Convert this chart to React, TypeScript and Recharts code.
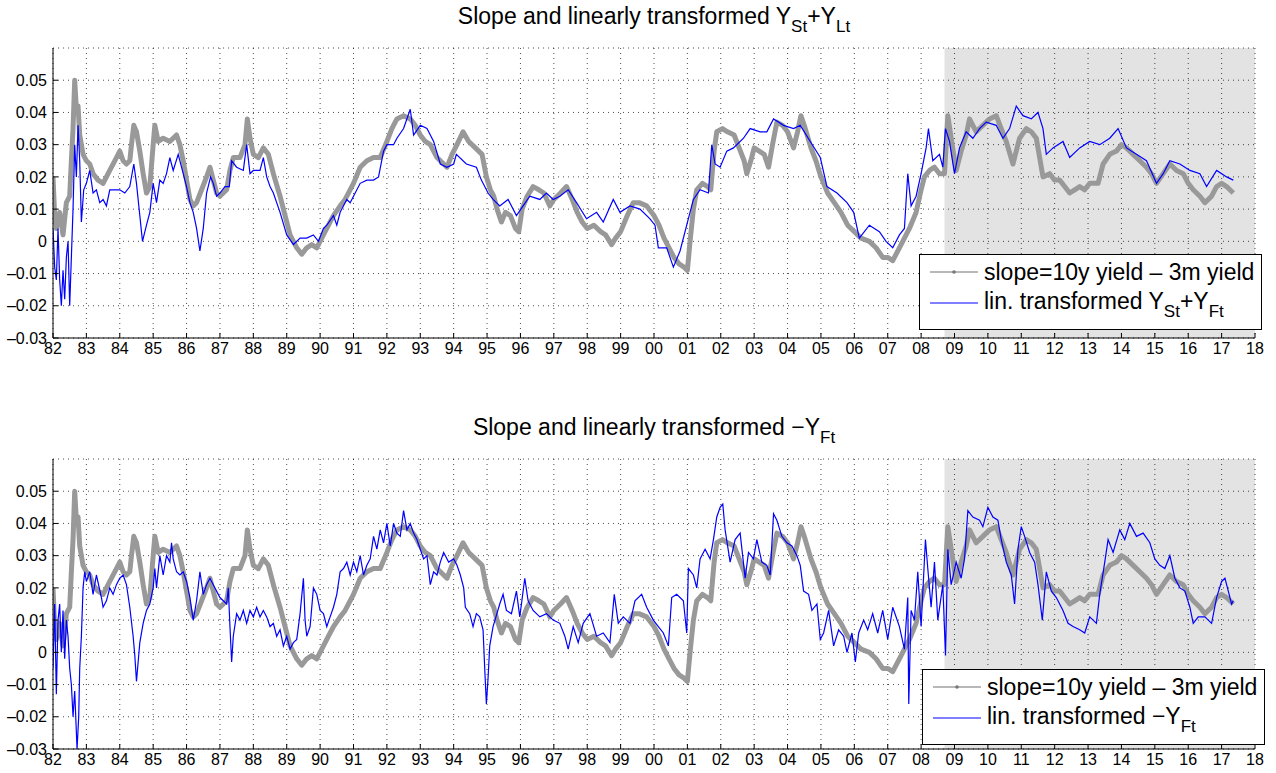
import React from 'react';
import { LineChart, Line, XAxis, YAxis, CartesianGrid, ReferenceArea } from 'recharts';

// slope = 10y yield - 3m yield (same series in both panels)
const slopeSeries: [number, number][] = [
  [1982.0, 0.020], [1982.05, 0.008], [1982.1, 0.004], [1982.2, 0.009], [1982.3, 0.002], [1982.4, 0.012],
  [1982.5, 0.014], [1982.55, 0.025], [1982.6, 0.035], [1982.65, 0.050], [1982.7, 0.041], [1982.75, 0.042],
  [1982.8, 0.033], [1982.9, 0.027], [1983.0, 0.025], [1983.1, 0.024], [1983.2, 0.021], [1983.35, 0.019],
  [1983.5, 0.018], [1983.6, 0.020], [1983.7, 0.022], [1983.85, 0.025], [1984.0, 0.028], [1984.1, 0.025],
  [1984.2, 0.024], [1984.3, 0.025], [1984.35, 0.030], [1984.42, 0.036], [1984.5, 0.034], [1984.6, 0.028],
  [1984.7, 0.021], [1984.8, 0.015], [1984.9, 0.017], [1985.0, 0.030], [1985.05, 0.036], [1985.15, 0.031],
  [1985.3, 0.032], [1985.5, 0.031], [1985.7, 0.033], [1985.8, 0.030], [1985.9, 0.025], [1986.0, 0.019],
  [1986.1, 0.013], [1986.2, 0.011], [1986.3, 0.012], [1986.45, 0.016], [1986.6, 0.020], [1986.7, 0.023],
  [1986.8, 0.019], [1986.9, 0.015], [1987.0, 0.014], [1987.2, 0.016], [1987.3, 0.022], [1987.4, 0.026],
  [1987.6, 0.026], [1987.75, 0.030], [1987.82, 0.038], [1987.9, 0.032], [1988.0, 0.027], [1988.15, 0.026],
  [1988.3, 0.029], [1988.45, 0.027], [1988.6, 0.021], [1988.8, 0.014], [1989.0, 0.006], [1989.1, 0.002],
  [1989.3, -0.002], [1989.45, -0.004], [1989.6, -0.002], [1989.75, -0.001], [1989.9, -0.002], [1990.1, 0.002],
  [1990.25, 0.005], [1990.4, 0.008], [1990.6, 0.011], [1990.75, 0.013], [1991.0, 0.018], [1991.2, 0.023],
  [1991.4, 0.025], [1991.6, 0.026], [1991.8, 0.026], [1992.0, 0.031], [1992.15, 0.035], [1992.3, 0.038],
  [1992.5, 0.039], [1992.7, 0.038], [1992.85, 0.036], [1993.0, 0.033], [1993.15, 0.031], [1993.3, 0.030],
  [1993.5, 0.026], [1993.7, 0.024], [1993.8, 0.023], [1993.95, 0.027], [1994.1, 0.030], [1994.28, 0.034],
  [1994.45, 0.031], [1994.65, 0.029], [1994.85, 0.027], [1994.98, 0.020], [1995.1, 0.016], [1995.2, 0.014],
  [1995.3, 0.010], [1995.43, 0.006], [1995.55, 0.009], [1995.7, 0.008], [1995.85, 0.004], [1995.95, 0.003],
  [1996.05, 0.010], [1996.2, 0.014], [1996.38, 0.017], [1996.55, 0.016], [1996.7, 0.015], [1996.88, 0.011],
  [1997.0, 0.013], [1997.2, 0.015], [1997.38, 0.017], [1997.55, 0.013], [1997.7, 0.009], [1997.85, 0.006],
  [1998.0, 0.004], [1998.2, 0.005], [1998.4, 0.003], [1998.55, 0.002], [1998.73, -0.001], [1998.85, 0.001],
  [1999.0, 0.003], [1999.2, 0.008], [1999.38, 0.012], [1999.55, 0.012], [1999.78, 0.011], [2000.0, 0.008],
  [2000.15, 0.005], [2000.3, 0.001], [2000.45, -0.002], [2000.6, -0.005], [2000.75, -0.007], [2000.9, -0.008],
  [2001.0, -0.009], [2001.08, 0.000], [2001.18, 0.010], [2001.28, 0.016], [2001.45, 0.018], [2001.6, 0.017],
  [2001.7, 0.016], [2001.8, 0.028], [2001.88, 0.034], [2002.05, 0.035], [2002.2, 0.034], [2002.4, 0.033],
  [2002.55, 0.029], [2002.7, 0.025], [2002.78, 0.021], [2002.9, 0.025], [2003.0, 0.029], [2003.15, 0.028],
  [2003.3, 0.027], [2003.43, 0.023], [2003.55, 0.030], [2003.68, 0.037], [2003.85, 0.036], [2004.0, 0.034],
  [2004.18, 0.029], [2004.3, 0.034], [2004.4, 0.039], [2004.5, 0.036], [2004.7, 0.029], [2004.85, 0.025],
  [2005.0, 0.020], [2005.2, 0.015], [2005.4, 0.012], [2005.6, 0.009], [2005.8, 0.005], [2006.0, 0.003],
  [2006.2, 0.001], [2006.45, 0.000], [2006.65, -0.002], [2006.85, -0.005], [2007.0, -0.005], [2007.15, -0.006],
  [2007.35, -0.002], [2007.5, 0.001], [2007.65, 0.004], [2007.85, 0.009], [2008.0, 0.016], [2008.1, 0.020],
  [2008.25, 0.022], [2008.4, 0.023], [2008.55, 0.021], [2008.7, 0.021], [2008.75, 0.030], [2008.8, 0.039],
  [2008.9, 0.032], [2009.05, 0.022], [2009.2, 0.028], [2009.35, 0.033], [2009.45, 0.038], [2009.65, 0.034],
  [2009.85, 0.036], [2010.05, 0.038], [2010.25, 0.039], [2010.4, 0.035], [2010.55, 0.031], [2010.75, 0.024],
  [2010.95, 0.032], [2011.15, 0.035], [2011.3, 0.034], [2011.45, 0.032], [2011.55, 0.026], [2011.65, 0.020],
  [2011.85, 0.021], [2012.0, 0.019], [2012.15, 0.019], [2012.3, 0.017], [2012.45, 0.015], [2012.6, 0.016],
  [2012.75, 0.017], [2012.9, 0.016], [2013.05, 0.018], [2013.3, 0.018], [2013.45, 0.024], [2013.65, 0.027],
  [2013.85, 0.028], [2014.0, 0.030], [2014.15, 0.029], [2014.35, 0.027], [2014.55, 0.025], [2014.75, 0.023],
  [2014.9, 0.021], [2015.05, 0.018], [2015.25, 0.021], [2015.45, 0.024], [2015.65, 0.022], [2015.85, 0.021],
  [2016.0, 0.018], [2016.15, 0.016], [2016.35, 0.014], [2016.5, 0.012], [2016.7, 0.014], [2016.85, 0.017],
  [2017.0, 0.018], [2017.15, 0.017], [2017.25, 0.016], [2017.35, 0.015],
];

// lin. transformed Y_St + Y_Ft (top panel)
const levelSlopeSeries: [number, number][] = [
  [1982.0, 0.004], [1982.05, -0.008], [1982.1, -0.012], [1982.15, 0.004], [1982.2, -0.012], [1982.25, -0.020],
  [1982.3, -0.009], [1982.35, -0.018], [1982.4, -0.005], [1982.45, 0.000], [1982.5, -0.020], [1982.55, -0.005],
  [1982.6, 0.010], [1982.65, 0.030], [1982.7, 0.020], [1982.75, 0.036], [1982.8, 0.025], [1982.85, 0.006],
  [1982.92, 0.016], [1983.0, 0.018], [1983.1, 0.022], [1983.2, 0.015], [1983.3, 0.016], [1983.4, 0.012],
  [1983.5, 0.013], [1983.6, 0.011], [1983.7, 0.016], [1983.85, 0.016], [1984.0, 0.016], [1984.15, 0.015],
  [1984.3, 0.017], [1984.42, 0.024], [1984.5, 0.018], [1984.6, 0.008], [1984.68, 0.000], [1984.8, 0.005],
  [1984.9, 0.009], [1985.0, 0.018], [1985.1, 0.012], [1985.2, 0.019], [1985.3, 0.018], [1985.4, 0.021],
  [1985.5, 0.026], [1985.6, 0.022], [1985.75, 0.027], [1985.9, 0.021], [1986.0, 0.017], [1986.1, 0.012],
  [1986.2, 0.009], [1986.3, 0.004], [1986.4, -0.003], [1986.5, 0.004], [1986.6, 0.015], [1986.72, 0.020],
  [1986.8, 0.018], [1986.9, 0.014], [1987.0, 0.015], [1987.15, 0.017], [1987.28, 0.017], [1987.35, 0.025],
  [1987.5, 0.023], [1987.7, 0.022], [1987.8, 0.030], [1987.9, 0.021], [1988.0, 0.022], [1988.2, 0.022],
  [1988.3, 0.026], [1988.4, 0.020], [1988.5, 0.017], [1988.6, 0.015], [1988.8, 0.009], [1989.0, 0.002],
  [1989.2, -0.001], [1989.4, 0.001], [1989.6, 0.001], [1989.8, 0.002], [1989.95, 0.000], [1990.1, 0.004],
  [1990.2, 0.005], [1990.4, 0.008], [1990.5, 0.005], [1990.6, 0.009], [1990.8, 0.013], [1990.9, 0.012],
  [1991.0, 0.014], [1991.2, 0.018], [1991.4, 0.019], [1991.6, 0.019], [1991.75, 0.020], [1991.9, 0.028],
  [1992.0, 0.030], [1992.2, 0.030], [1992.3, 0.032], [1992.5, 0.035], [1992.7, 0.041], [1992.8, 0.033],
  [1993.0, 0.036], [1993.2, 0.035], [1993.4, 0.031], [1993.6, 0.024], [1993.8, 0.023], [1994.0, 0.024],
  [1994.08, 0.027], [1994.38, 0.024], [1994.68, 0.023], [1994.83, 0.019], [1995.03, 0.015], [1995.18, 0.013],
  [1995.38, 0.011], [1995.63, 0.013], [1995.88, 0.008], [1996.08, 0.011], [1996.28, 0.014], [1996.58, 0.013],
  [1996.78, 0.015], [1996.98, 0.013], [1997.18, 0.014], [1997.43, 0.016], [1997.68, 0.012], [1997.98, 0.007],
  [1998.28, 0.009], [1998.48, 0.006], [1998.78, 0.013], [1998.98, 0.009], [1999.28, 0.011], [1999.58, 0.010],
  [1999.88, 0.007], [2000.03, 0.005], [2000.13, -0.002], [2000.38, -0.002], [2000.58, -0.008], [2000.78, -0.003],
  [2000.98, 0.005], [2001.18, 0.013], [2001.38, 0.016], [2001.63, 0.015], [2001.73, 0.030], [2001.83, 0.024],
  [2001.98, 0.023], [2002.18, 0.028], [2002.38, 0.029], [2002.68, 0.032], [2002.88, 0.035], [2003.18, 0.034],
  [2003.38, 0.034], [2003.58, 0.038], [2003.88, 0.036], [2004.18, 0.035], [2004.38, 0.036], [2004.68, 0.031],
  [2004.98, 0.026], [2005.18, 0.017], [2005.48, 0.015], [2005.78, 0.012], [2005.98, 0.009], [2006.15, 0.001],
  [2006.45, 0.005], [2006.75, 0.003], [2006.95, 0.000], [2007.15, -0.002], [2007.35, 0.002], [2007.5, 0.004],
  [2007.6, 0.021], [2007.7, 0.011], [2007.85, 0.014], [2008.0, 0.021], [2008.15, 0.029], [2008.22, 0.035],
  [2008.35, 0.025], [2008.55, 0.027], [2008.65, 0.023], [2008.73, 0.035], [2008.85, 0.031], [2009.0, 0.021],
  [2009.15, 0.029], [2009.35, 0.034], [2009.55, 0.032], [2009.75, 0.035], [2009.95, 0.037], [2010.25, 0.036],
  [2010.45, 0.032], [2010.65, 0.035], [2010.85, 0.042], [2011.05, 0.039], [2011.3, 0.038], [2011.5, 0.040],
  [2011.65, 0.035], [2011.75, 0.027], [2011.95, 0.029], [2012.25, 0.031], [2012.45, 0.026], [2012.75, 0.029],
  [2013.05, 0.031], [2013.35, 0.030], [2013.65, 0.032], [2013.9, 0.035], [2014.15, 0.029], [2014.45, 0.027],
  [2014.75, 0.025], [2015.05, 0.018], [2015.25, 0.021], [2015.45, 0.025], [2015.75, 0.024], [2016.05, 0.022],
  [2016.35, 0.021], [2016.55, 0.017], [2016.85, 0.022], [2017.15, 0.020], [2017.35, 0.019],
];

// lin. transformed -Y_Ft (bottom panel)
const negFactorSeries: [number, number][] = [
  [1982.0, -0.005], [1982.05, 0.015], [1982.1, -0.013], [1982.15, 0.010], [1982.2, 0.015], [1982.25, 0.000],
  [1982.3, 0.013], [1982.35, -0.002], [1982.4, 0.010], [1982.45, 0.005], [1982.5, -0.005], [1982.55, -0.010],
  [1982.6, -0.020], [1982.65, -0.012], [1982.72, -0.030], [1982.77, -0.020], [1982.8, -0.005], [1982.85, 0.005],
  [1982.9, 0.020], [1982.95, 0.025], [1983.0, 0.022], [1983.1, 0.025], [1983.2, 0.018], [1983.3, 0.024],
  [1983.45, 0.017], [1983.5, 0.014], [1983.6, 0.016], [1983.7, 0.020], [1983.8, 0.018], [1983.9, 0.021],
  [1984.0, 0.023], [1984.1, 0.024], [1984.2, 0.021], [1984.3, 0.014], [1984.4, 0.005], [1984.45, -0.001],
  [1984.5, -0.009], [1984.55, -0.003], [1984.6, 0.003], [1984.7, 0.009], [1984.8, 0.013], [1984.9, 0.015],
  [1985.0, 0.020], [1985.05, 0.026], [1985.1, 0.020], [1985.2, 0.030], [1985.3, 0.024], [1985.4, 0.030],
  [1985.5, 0.028], [1985.55, 0.034], [1985.6, 0.029], [1985.7, 0.025], [1985.8, 0.024], [1985.9, 0.025],
  [1986.0, 0.022], [1986.1, 0.017], [1986.2, 0.010], [1986.3, 0.016], [1986.4, 0.025], [1986.5, 0.018],
  [1986.6, 0.021], [1986.7, 0.023], [1986.8, 0.021], [1986.9, 0.019], [1987.0, 0.017], [1987.2, 0.015],
  [1987.25, 0.020], [1987.3, 0.008], [1987.35, -0.003], [1987.4, 0.005], [1987.5, 0.012], [1987.6, 0.010],
  [1987.7, 0.013], [1987.8, 0.009], [1987.9, 0.013], [1988.0, 0.011], [1988.1, 0.014], [1988.2, 0.011],
  [1988.3, 0.013], [1988.4, 0.011], [1988.5, 0.008], [1988.6, 0.009], [1988.7, 0.005], [1988.8, 0.007],
  [1988.9, 0.002], [1989.0, 0.005], [1989.1, 0.001], [1989.2, 0.003], [1989.3, 0.004], [1989.4, 0.012],
  [1989.5, 0.023], [1989.55, 0.010], [1989.6, 0.005], [1989.7, 0.008], [1989.8, 0.020], [1989.9, 0.018],
  [1990.0, 0.013], [1990.1, 0.012], [1990.2, 0.008], [1990.3, 0.011], [1990.4, 0.014], [1990.5, 0.018],
  [1990.6, 0.025], [1990.7, 0.026], [1990.8, 0.028], [1990.9, 0.024], [1991.0, 0.028], [1991.1, 0.025],
  [1991.2, 0.030], [1991.3, 0.024], [1991.4, 0.027], [1991.5, 0.029], [1991.6, 0.036], [1991.7, 0.032],
  [1991.8, 0.038], [1991.9, 0.034], [1992.0, 0.040], [1992.1, 0.033], [1992.2, 0.040], [1992.3, 0.037],
  [1992.4, 0.036], [1992.5, 0.044], [1992.6, 0.038], [1992.7, 0.040], [1992.8, 0.037], [1992.9, 0.035],
  [1993.0, 0.032], [1993.1, 0.029], [1993.2, 0.030], [1993.3, 0.021], [1993.4, 0.025], [1993.5, 0.024],
  [1993.6, 0.028], [1993.7, 0.031], [1993.85, 0.028], [1994.0, 0.029], [1994.1, 0.027], [1994.2, 0.024],
  [1994.3, 0.020], [1994.35, 0.014], [1994.48, 0.012], [1994.58, 0.008], [1994.68, 0.012], [1994.78, 0.011],
  [1994.88, 0.007], [1994.93, -0.005], [1994.98, -0.016], [1995.03, -0.008], [1995.08, 0.002], [1995.18, 0.008],
  [1995.38, 0.015], [1995.48, 0.018], [1995.58, 0.013], [1995.73, 0.012], [1995.88, 0.019], [1995.98, 0.011],
  [1996.13, 0.023], [1996.23, 0.016], [1996.38, 0.013], [1996.58, 0.011], [1996.78, 0.012], [1996.98, 0.010],
  [1997.18, 0.009], [1997.33, 0.005], [1997.43, 0.001], [1997.58, 0.008], [1997.73, 0.003], [1997.88, 0.009],
  [1998.08, 0.012], [1998.28, 0.005], [1998.48, 0.006], [1998.68, 0.003], [1998.81, 0.018], [1998.93, 0.009],
  [1999.08, 0.011], [1999.28, 0.009], [1999.43, 0.016], [1999.63, 0.018], [1999.78, 0.014], [1999.98, 0.010],
  [2000.13, 0.008], [2000.28, 0.006], [2000.43, 0.002], [2000.53, 0.017], [2000.68, 0.018], [2000.88, 0.016],
  [2000.98, 0.006], [2001.03, 0.026], [2001.18, 0.024], [2001.28, 0.020], [2001.38, 0.029], [2001.53, 0.032],
  [2001.68, 0.029], [2001.78, 0.035], [2001.88, 0.042], [2001.98, 0.045], [2002.06, 0.046], [2002.13, 0.038],
  [2002.28, 0.028], [2002.43, 0.035], [2002.58, 0.037], [2002.73, 0.023], [2002.83, 0.031], [2002.98, 0.029],
  [2003.08, 0.035], [2003.23, 0.028], [2003.38, 0.027], [2003.48, 0.024], [2003.58, 0.043], [2003.68, 0.041],
  [2003.83, 0.036], [2003.98, 0.034], [2004.13, 0.033], [2004.28, 0.030], [2004.38, 0.027], [2004.48, 0.019],
  [2004.63, 0.018], [2004.73, 0.013], [2004.88, 0.015], [2004.98, 0.004], [2005.08, 0.006], [2005.23, 0.013],
  [2005.38, 0.002], [2005.53, 0.007], [2005.68, 0.005], [2005.78, 0.000], [2005.93, 0.006], [2006.03, -0.003],
  [2006.13, 0.006], [2006.28, 0.010], [2006.4, 0.007], [2006.55, 0.012], [2006.7, 0.006], [2006.85, 0.013],
  [2007.0, 0.004], [2007.15, 0.014], [2007.35, 0.008], [2007.5, 0.001], [2007.6, 0.017], [2007.63, -0.016],
  [2007.7, 0.013], [2007.8, 0.010], [2007.9, 0.025], [2008.0, 0.008], [2008.13, 0.035], [2008.2, 0.026],
  [2008.3, 0.014], [2008.4, 0.028], [2008.5, 0.010], [2008.65, 0.021], [2008.73, -0.001], [2008.8, 0.032],
  [2008.9, 0.021], [2009.05, 0.028], [2009.2, 0.023], [2009.3, 0.029], [2009.4, 0.044], [2009.55, 0.042],
  [2009.75, 0.041], [2009.85, 0.039], [2010.0, 0.045], [2010.15, 0.042], [2010.3, 0.041], [2010.4, 0.035],
  [2010.55, 0.028], [2010.7, 0.024], [2010.8, 0.015], [2010.9, 0.032], [2011.0, 0.039], [2011.1, 0.036],
  [2011.25, 0.031], [2011.4, 0.028], [2011.5, 0.021], [2011.63, 0.010], [2011.75, 0.025], [2011.9, 0.019],
  [2012.05, 0.017], [2012.25, 0.013], [2012.4, 0.009], [2012.55, 0.008], [2012.75, 0.007], [2012.9, 0.006],
  [2013.05, 0.011], [2013.25, 0.009], [2013.35, 0.018], [2013.5, 0.028], [2013.6, 0.035], [2013.75, 0.031],
  [2013.95, 0.038], [2014.1, 0.035], [2014.25, 0.040], [2014.45, 0.036], [2014.65, 0.037], [2014.85, 0.034],
  [2015.0, 0.029], [2015.15, 0.027], [2015.3, 0.026], [2015.45, 0.030], [2015.6, 0.023], [2015.75, 0.020],
  [2015.9, 0.019], [2016.05, 0.014], [2016.15, 0.009], [2016.3, 0.011], [2016.5, 0.011], [2016.7, 0.009],
  [2016.85, 0.017], [2017.0, 0.022], [2017.1, 0.023], [2017.2, 0.019], [2017.3, 0.015], [2017.35, 0.016],
];

const xTicks = [
  1982, 1983, 1984, 1985, 1986, 1987, 1988, 1989, 1990, 1991, 1992, 1993, 1994, 1995, 1996, 1997, 1998, 1999,
  2000, 2001, 2002, 2003, 2004, 2005, 2006, 2007, 2008, 2009, 2010, 2011, 2012, 2013, 2014, 2015, 2016, 2017, 2018,
];
const yTicks = [-0.03, -0.02, -0.01, 0, 0.01, 0.02, 0.03, 0.04, 0.05];
const shadeFrom = 2008.7;

const GRAY = '#999999';
const BLUE = '#0000ff';
const FONT = '"Liberation Sans", Arial, Helvetica, sans-serif';

const toRows = (s: [number, number][]) => s.map(([t, v]) => ({ t, v }));

const fmtYear = (v: number) => String(v % 100).padStart(2, '0');
const fmtVal = (v: number) => (Math.abs(v) < 1e-9 ? '0' : v.toFixed(2).replace('-', '\u2013'));

// tick labels drawn at the position recharts computes
const YearTick = (p: any) => (
  <text x={p.x} y={p.y} dy="0.71em" textAnchor="middle" fontSize={16} fontFamily={FONT} fill="#000">
    {fmtYear(p.payload.value)}
  </text>
);
const ValueTick = (p: any) => (
  <text x={p.x} y={p.y} dy="0.355em" textAnchor="end" fontSize={16} fontFamily={FONT} fill="#000">
    {fmtVal(p.payload.value)}
  </text>
);

const Sub = ({ children }: { children: React.ReactNode }) => (
  <span style={{ fontSize: 17, position: 'relative', top: 8 }}>{children}</span>
);

function Panel({ top, legendLeft, title, blue, legendLabel }: {
  top: number; legendLeft: number; title: React.ReactNode; blue: [number, number][]; legendLabel: React.ReactNode;
}) {
  const row = { position: 'absolute' as const, left: 10, display: 'flex', alignItems: 'center', whiteSpace: 'nowrap' as const, lineHeight: '26px' };
  return (
    <div style={{ position: 'absolute', left: 0, top, width: 1276, height: 362 }}>
      <div style={{
        position: 'absolute', left: 53, width: 1202, top: 5, textAlign: 'center', fontSize: 23,
        lineHeight: 1, whiteSpace: 'nowrap',
      }}>
        {title}
      </div>
      <LineChart width={1276} height={362} margin={{ top: 48, right: 21, left: 0, bottom: 0 }}>
        <XAxis dataKey="t" type="number" domain={[1982, 2018]} ticks={xTicks}
          allowDataOverflow tickSize={-5} tickMargin={10} height={24} interval={0}
          stroke="#000" tick={YearTick} />
        <XAxis xAxisId="top" orientation="top" dataKey="t" type="number" domain={[1982, 2018]} ticks={xTicks}
          tickSize={-5} tick={false} height={0} stroke="#000" />
        <YAxis type="number" domain={[-0.03, 0.06]} ticks={yTicks} allowDataOverflow
          tickSize={-5} tickMargin={11} width={53} interval={0} stroke="#000" tick={ValueTick} />
        <YAxis yAxisId="right" orientation="right" type="number" domain={[-0.03, 0.06]} ticks={yTicks}
          tickSize={-5} tick={false} width={0} stroke="#000" />
        <CartesianGrid stroke="#000" strokeDasharray="1 4" strokeOpacity={0.7} />
        <ReferenceArea x1={shadeFrom} x2={2018} y1={-0.03} y2={0.06} fill="#000" fillOpacity={0.11} stroke="none" />
        <Line data={toRows(slopeSeries)} dataKey="v" stroke={GRAY} strokeWidth={5} dot={false}
          strokeLinejoin="round" isAnimationActive={false} />
        <Line data={toRows(blue)} dataKey="v" stroke={BLUE} strokeWidth={1.2} dot={false}
          isAnimationActive={false} />
      </LineChart>
      <div style={{
        position: 'absolute', left: legendLeft, top: top === 0 ? 254 : 258, width: 343, height: 76,
        border: '1px solid #000', background: '#fff', fontSize: 23, boxSizing: 'border-box',
      }}>
        <div style={{ ...row, top: 4 }}>
          <svg width={50} height={12} style={{ marginRight: 4 }}>
            <line x1={0} y1={6} x2={48} y2={6} stroke="#b8b8b8" strokeWidth={2} />
            <circle cx={24} cy={6} r={1.8} fill="#777" />
          </svg>
          <span>slope=10y yield &ndash; 3m yield</span>
        </div>
        <div style={{ ...row, top: 33 }}>
          <svg width={50} height={12} style={{ marginRight: 4 }}>
            <line x1={0} y1={6} x2={48} y2={6} stroke={BLUE} strokeWidth={1.2} />
          </svg>
          <span>{legendLabel}</span>
        </div>
      </div>
    </div>
  );
}

export default function App() {
  return (
    <div style={{
      position: 'absolute', left: 0, top: 0, width: 1276, height: 773, overflow: 'hidden',
      background: '#fff', fontFamily: FONT, color: '#000',
    }}>
      <Panel
        top={0}
        legendLeft={919}
        title={<>Slope and linearly transformed Y<Sub>St</Sub>+Y<Sub>Lt</Sub></>}
        blue={levelSlopeSeries}
        legendLabel={<>lin. transformed Y<Sub>St</Sub>+Y<Sub>Ft</Sub></>}
      />
      <Panel
        top={411}
        legendLeft={922}
        title={<>Slope and linearly transformed &minus;Y<Sub>Ft</Sub></>}
        blue={negFactorSeries}
        legendLabel={<>lin. transformed &minus;Y<Sub>Ft</Sub></>}
      />
    </div>
  );
}
